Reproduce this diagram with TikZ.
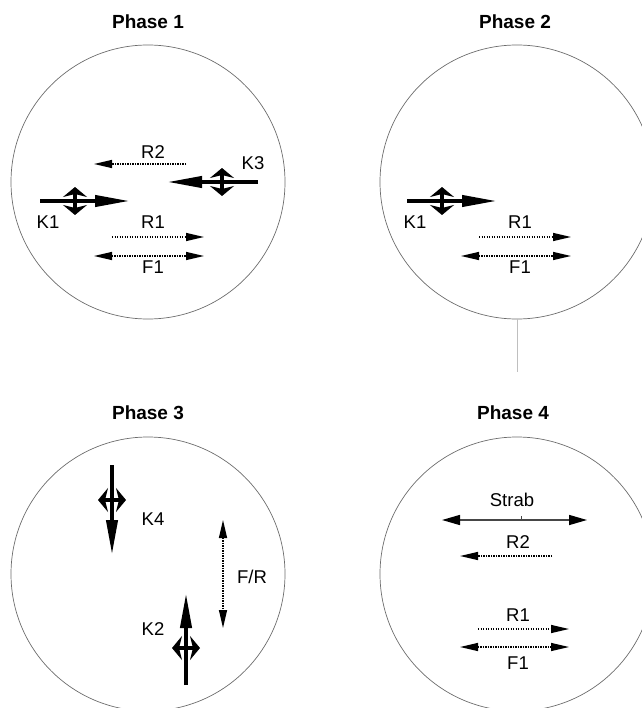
\documentclass[tikz,border=0pt]{standalone}
\usepackage{fontspec}
\setmainfont{Liberation Sans}
\usetikzlibrary{arrows.meta, positioning}
\tikzstyle{phase} = [circle, draw=gray!85!black, line width=0.7pt, minimum size=274pt, inner sep=0pt]
\tikzstyle{title} = [font=\fontsize{19}{21}\selectfont\bfseries, inner sep=0pt]
\tikzstyle{lbl} = [font=\fontsize{18.5}{21}\selectfont, inner sep=0pt]
\tikzstyle{muscle} = [line width=4pt, -{Triangle[length=35pt,width=11pt]}]
\tikzstyle{turn} = [line width=3.5pt, {Stealth[length=10pt,width=24pt,inset=3pt]}-{Stealth[length=10pt,width=24pt,inset=3pt]}]
\tikzstyle{move} = [line width=1.3pt, dash pattern=on 1.4pt off 1.1pt, -{Triangle[length=18pt,width=8pt]}]
\tikzstyle{both} = [line width=1.3pt, dash pattern=on 1.4pt off 1.1pt, {Triangle[length=18pt,width=8pt]}-{Triangle[length=18pt,width=8pt]}]
\tikzstyle{strab} = [line width=1.5pt, draw=gray!55!black, {Triangle[length=18pt,width=10pt,color=black]}-{Triangle[length=18pt,width=10pt,color=black]}]
\tikzstyle{hair} = [line width=0.6pt, draw=gray!50]

\begin{document}
\begin{tikzpicture}[x=1pt, y=-1pt]
    \useasboundingbox (0,0) rectangle (641,708);

    % Circles and titles
    \node (ph1) [phase] at (148,182) {};
    \node (ph2) [phase] at (517,182) {};
    \node (ph3) [phase] at (148,574) {};
    \node (ph4) [phase] at (517,574) {};
    \node (t1) [title] at (148,22) {Phase 1};
    \node (t2) [title] at (515,22) {Phase 2};
    \node (t3) [title] at (148,413) {Phase 3};
    \node (t4) [title] at (513,413) {Phase 4};

    % Phase 1
    \coordinate (p1r2s) at (186,164);  \coordinate (p1r2e) at (94,164);
    \coordinate (p1k3s) at (258,182);  \coordinate (p1k3e) at (167,182);
    \coordinate (p1k3a) at (222,168);  \coordinate (p1k3b) at (222,196);
    \coordinate (p1k1s) at (40,201);   \coordinate (p1k1e) at (130,201);
    \coordinate (p1k1a) at (75,187);   \coordinate (p1k1b) at (75,215);
    \coordinate (p1r1s) at (112,237);  \coordinate (p1r1e) at (204,237);
    \coordinate (p1f1s) at (94,256);   \coordinate (p1f1e) at (204,256);
    \node (p1r2) [lbl] at (153,152) {R2};
    \node (p1k3) [lbl] at (253,163) {K3};
    \node (p1k1) [lbl] at (48,222) {K1};
    \node (p1r1) [lbl] at (153,222) {R1};
    \node (p1f1) [lbl] at (153,267) {F1};

    % Phase 2
    \coordinate (p2k1s) at (407,201);  \coordinate (p2k1e) at (497,201);
    \coordinate (p2k1a) at (442,187);  \coordinate (p2k1b) at (442,215);
    \coordinate (p2r1s) at (479,237);  \coordinate (p2r1e) at (571,237);
    \coordinate (p2f1s) at (461,256);  \coordinate (p2f1e) at (571,256);
    \node (p2k1) [lbl] at (415,222) {K1};
    \node (p2r1) [lbl] at (520,222) {R1};
    \node (p2f1) [lbl] at (520,267) {F1};

    % Phase 3
    \coordinate (p3k4s) at (112,465);  \coordinate (p3k4e) at (112,555);
    \coordinate (p3k4a) at (98,500);   \coordinate (p3k4b) at (126,500);
    \coordinate (p3frs) at (223,520);  \coordinate (p3fre) at (223,628);
    \coordinate (p3k2s) at (186,685);  \coordinate (p3k2e) at (186,593);
    \coordinate (p3k2a) at (172,648);  \coordinate (p3k2b) at (200,648);
    \node (p3k4) [lbl] at (153,519) {K4};
    \node (p3fr) [lbl] at (252,577) {F/R};
    \node (p3k2) [lbl] at (153,629) {K2};

    % Phase 4
    \coordinate (p4sts) at (442,520);  \coordinate (p4ste) at (587,520);
    \coordinate (p4tka) at (521,516);  \coordinate (p4tkb) at (521,520);
    \coordinate (p4r2s) at (552,556);  \coordinate (p4r2e) at (460,556);
    \coordinate (p4r1s) at (478,629);  \coordinate (p4r1e) at (569,629);
    \coordinate (p4f1s) at (460,647);  \coordinate (p4f1e) at (569,647);
    \node (p4st) [lbl] at (512,500) {Strab};
    \node (p4r2) [lbl] at (518,542) {R2};
    \node (p4r1) [lbl] at (518,615) {R1};
    \node (p4f1) [lbl] at (518,663) {F1};

    % ==== Arrows
    \draw [move] (p1r2s) -- (p1r2e);
    \draw [muscle] (p1k3s) -- (p1k3e);
    \draw [turn] (p1k3a) -- (p1k3b);
    \draw [muscle] (p1k1s) -- (p1k1e);
    \draw [turn] (p1k1a) -- (p1k1b);
    \draw [move] (p1r1s) -- (p1r1e);
    \draw [both] (p1f1s) -- (p1f1e);

    \draw [muscle] (p2k1s) -- (p2k1e);
    \draw [turn] (p2k1a) -- (p2k1b);
    \draw [move] (p2r1s) -- (p2r1e);
    \draw [both] (p2f1s) -- (p2f1e);

    \draw [muscle] (p3k4s) -- (p3k4e);
    \draw [turn] (p3k4a) -- (p3k4b);
    \draw [both] (p3frs) -- (p3fre);
    \draw [muscle] (p3k2s) -- (p3k2e);
    \draw [turn] (p3k2a) -- (p3k2b);

    \draw [strab] (p4sts) -- (p4ste);
    \draw [hair, draw=gray!55!black] (p4tka) -- (p4tkb);
    \draw [move] (p4r2s) -- (p4r2e);
    \draw [move] (p4r1s) -- (p4r1e);
    \draw [both] (p4f1s) -- (p4f1e);

    % thin line below Phase 2
    \draw [hair] (ph2.south) -- ++(0,53);

\end{tikzpicture}
\end{document}
